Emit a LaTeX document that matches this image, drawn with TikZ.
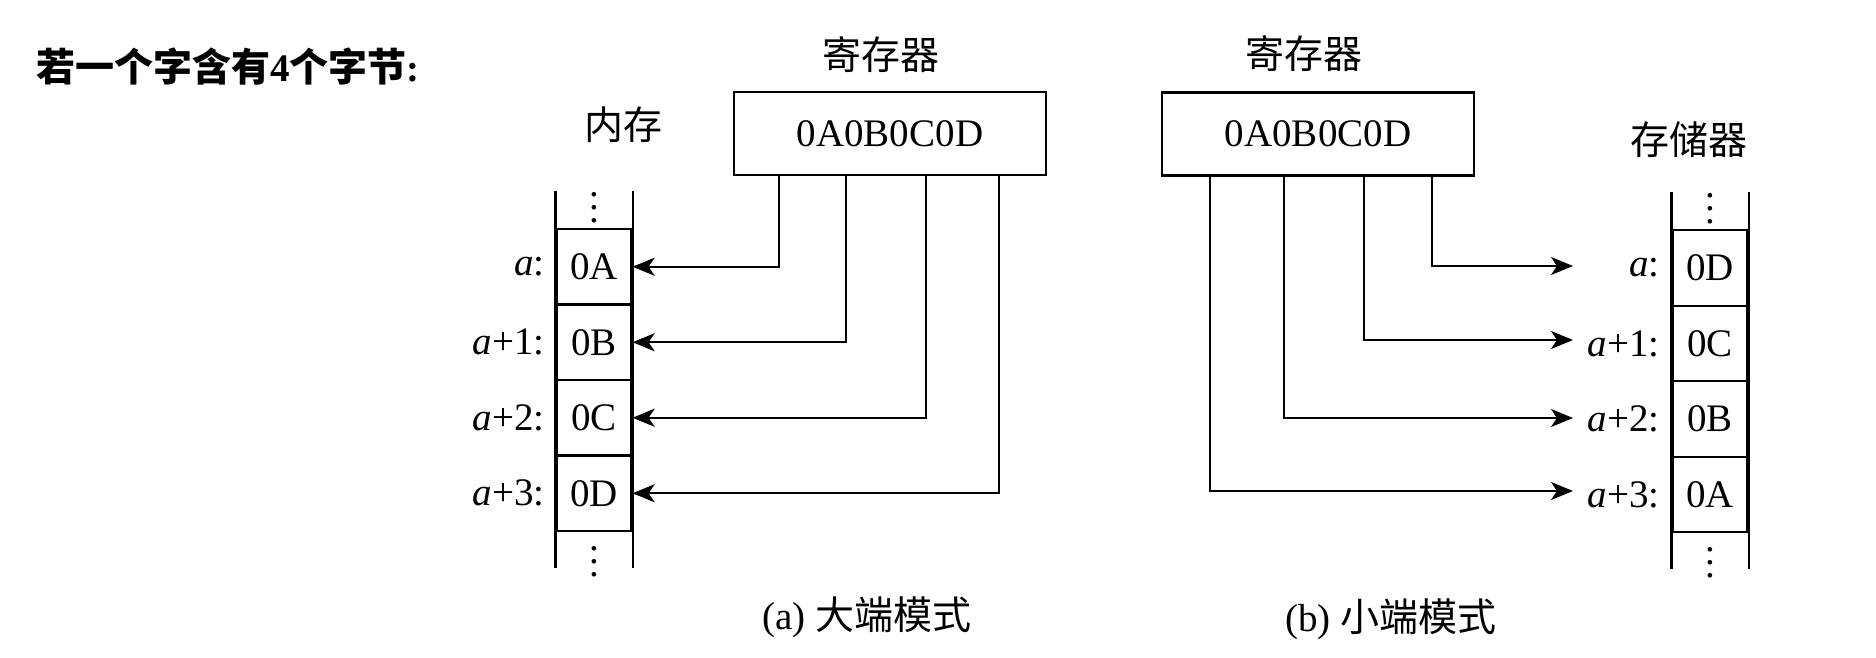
\documentclass[tikz,border=0pt]{standalone}
\usepackage{fontspec}
\setmainfont{Liberation Serif}
\newfontfamily\cjk{Noto Sans CJK SC}
\usetikzlibrary{arrows.meta}
\newcommand\vdotcol{\vbox{\baselineskip=6.5pt\lineskiplimit=-10pt\hbox{.}\hbox{.}\hbox{.}}}
\tikzset{
  cell/.style={draw,line width=1.1pt,minimum width=37.5pt,minimum height=37.75pt,inner sep=0pt},
  regbox/.style={draw,line width=1.1pt,minimum width=156pt,minimum height=41.5pt,inner sep=0pt},
  wire/.style={line width=1.1pt,-{Stealth[length=11pt,width=9pt,inset=3pt]}},
  side/.style={line width=1.1pt},
  addr/.style={anchor=east,inner sep=0pt},
}
\begin{document}
\begin{tikzpicture}[x=0.5pt,y=0.5pt,yscale=-1,font=\fontsize{19.5}{23}\selectfont]
\useasboundingbox (0,0) rectangle (1876,658);

% Title
\node [anchor=west,inner sep=0pt] (title) at (36,67) {\cjk\bfseries 若一个字含有\textbf{\rmfamily 4}个字节{\rmfamily\bfseries :}};

%% (a) big endian
\node (Lreglbl) at (881,55) {\cjk 寄存器};
\node [regbox] (Lreg) at (890,133.5) {0A0B0C0D};
\node (Lmemlbl) at (623,125) {\cjk 内存};
% memory cells
\node [cell] (L1) at (594,266.75) {0A};
\node [cell] (L2) at (594,342.25) {0B};
\node [cell] (L3) at (594,417.75) {0C};
\node [cell] (L4) at (594,493.25) {0D};
\draw [side] ([yshift=-18.5pt]L1.north west) -- ([yshift=18pt]L4.south west);
\draw [side] ([yshift=-18.5pt]L1.north east) -- ([yshift=18pt]L4.south east);
\node [inner sep=0pt] (Ltop) at (594,208) {\vdotcol};
\node [inner sep=0pt] (Lbot) at (594,562) {\vdotcol};
% addresses
\node [addr] (La1) at (545,266.75) {\textit{a}:};
\node [addr] (La2) at (545,342.25) {\textit{a}+1:};
\node [addr] (La3) at (545,417.75) {\textit{a}+2:};
\node [addr] (La4) at (545,493.25) {\textit{a}+3:};
% wires
\coordinate (Lx1) at (779,0);
\coordinate (Lx2) at (846,0);
\coordinate (Lx3) at (926,0);
\coordinate (Lx4) at (999,0);
\draw [wire] (Lx1 |- Lreg.south) |- (L1.east);
\draw [wire] (Lx2 |- Lreg.south) |- (L2.east);
\draw [wire] (Lx3 |- Lreg.south) |- (L3.east);
\draw [wire] (Lx4 |- Lreg.south) |- (L4.east);
\node (Lcap) at (867,617) {(a) {\cjk 大端模式}};

%% (b) little endian
\node (Rreglbl) at (1304,54) {\cjk 寄存器};
\node [regbox] (Rreg) at (1318,134) {0A0B0C0D};
\node (Rmemlbl) at (1689,140) {\cjk 存储器};
% memory cells
\node [cell] (R1) at (1710,268) {0D};
\node [cell] (R2) at (1710,343.5) {0C};
\node [cell] (R3) at (1710,419) {0B};
\node [cell] (R4) at (1710,494.5) {0A};
\draw [side] ([yshift=-18.5pt]R1.north west) -- ([yshift=18pt]R4.south west);
\draw [side] ([yshift=-18.5pt]R1.north east) -- ([yshift=18pt]R4.south east);
\node [inner sep=0pt] (Rtop) at (1710,209) {\vdotcol};
\node [inner sep=0pt] (Rbot) at (1710,563) {\vdotcol};
% addresses
\node [addr] (Ra1) at (1660,268) {\textit{a}:};
\node [addr] (Ra2) at (1660,343.5) {\textit{a}+1:};
\node [addr] (Ra3) at (1660,419) {\textit{a}+2:};
\node [addr] (Ra4) at (1660,494.5) {\textit{a}+3:};
% wires
\coordinate (Rx1) at (1432,0);
\coordinate (Rx2) at (1364,0);
\coordinate (Rx3) at (1284,0);
\coordinate (Rx4) at (1210,0);
\coordinate (Rt1) at (1573,266);
\coordinate (Rt2) at (1573,340);
\coordinate (Rt3) at (1573,418);
\coordinate (Rt4) at (1573,491);
\draw [wire] (Rx1 |- Rreg.south) |- (Rt1);
\draw [wire] (Rx2 |- Rreg.south) |- (Rt2);
\draw [wire] (Rx3 |- Rreg.south) |- (Rt3);
\draw [wire] (Rx4 |- Rreg.south) |- (Rt4);
\node (Rcap) at (1391,619) {(b) {\cjk 小端模式}};

\end{tikzpicture}
\end{document}
